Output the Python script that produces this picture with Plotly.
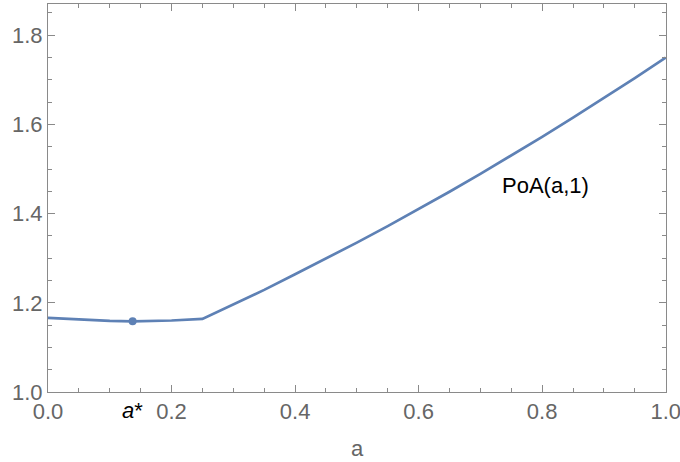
import plotly.graph_objects as go

# Data
a_vals = [0.0, 0.05, 0.10, 0.137, 0.15, 0.20, 0.25, 0.30, 0.35, 0.40, 0.45, 0.50,
          0.55, 0.60, 0.65, 0.70, 0.75, 0.80, 0.85, 0.90, 0.95, 1.0]
poa_vals = [1.166, 1.162, 1.1595, 1.1585, 1.1587, 1.1603, 1.164, 1.196, 1.229, 1.264,
            1.299, 1.335, 1.372, 1.410, 1.449, 1.489, 1.530, 1.572, 1.615, 1.659,
            1.704, 1.750]
a_star = 0.137
poa_star = 1.1585
x_ticks = [0.0, 0.2, 0.4, 0.6, 0.8, 1.0]
x_tick_text = ["0.0", "0.2", "0.4", "0.6", "0.8", "1.0"]
y_ticks = [1.0, 1.2, 1.4, 1.6, 1.8]
y_tick_text = ["1.0", "1.2", "1.4", "1.6", "1.8"]

line_color = "#5E81B5"
frame_color = "#8a8a8a"
label_color = "#666666"
font_family = "Liberation Sans, Arial, sans-serif"
fs = 22

fig = go.Figure()
fig.add_trace(go.Scatter(x=a_vals, y=poa_vals, mode="lines",
                         line=dict(color=line_color, width=2.7),
                         showlegend=False, hoverinfo="skip", cliponaxis=False))
fig.add_trace(go.Scatter(x=[a_star], y=[poa_star], mode="markers",
                         marker=dict(color=line_color, size=8),
                         showlegend=False, hoverinfo="skip"))

fig.add_annotation(x=0.805, y=1.464, text="PoA(a,1)", showarrow=False,
                   font=dict(family=font_family, size=fs, color="black"))
fig.add_annotation(x=a_star, y=0, yref="paper", xref="x",
                   text="<i>a</i>*", showarrow=False,
                   yanchor="top", yshift=-4,
                   font=dict(family=font_family, size=fs, color="black"))

axis_common = dict(
    showgrid=False, zeroline=False, showline=True, linecolor=frame_color,
    linewidth=1, mirror="allticks", ticks="inside", ticklen=7, tickwidth=1,
    tickcolor=frame_color, automargin=False, ticklabeloverflow="allow",
    tickfont=dict(family=font_family, size=fs, color=label_color),
    minor=dict(dtick=0.05, ticks="inside", ticklen=4, tickwidth=1,
               tickcolor=frame_color, showgrid=False),
)

fig.update_xaxes(range=[0, 1.0005], tickmode="array", tickvals=x_ticks,
                 ticktext=x_tick_text,
                 title=dict(text="a", standoff=17,
                            font=dict(family=font_family, size=fs, color=label_color)),
                 **axis_common)
fig.update_yaxes(range=[1.0, 1.87], tickmode="array", tickvals=y_ticks,
                 ticktext=y_tick_text, **axis_common)

fig.update_layout(
    width=680, height=462,
    margin=dict(l=48, r=14, t=4, b=70),
    plot_bgcolor="white", paper_bgcolor="white",
    font=dict(family=font_family),
)

fig.write_html("out.html", config={"displayModeBar": False},
               post_script="document.body.style.margin='0';document.body.style.padding='0';")
